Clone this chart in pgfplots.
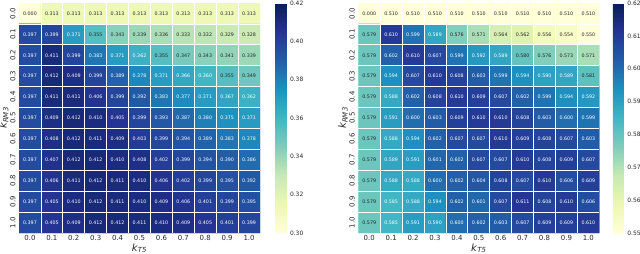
\documentclass[border=0pt]{standalone}
\usepackage{pgfplots}
\pgfplotsset{compat=1.18}
\usepackage{pgfplotstable}
\usepackage{fontspec}
\setmainfont{DejaVu Sans}
\definecolor{lbl}{HTML}{262626}
\pgfplotsset{
 colormap={ylgnbu}{rgb255=(255,255,217) rgb255=(237,248,177) rgb255=(199,233,180) rgb255=(127,205,187) rgb255=(65,182,196) rgb255=(29,145,192) rgb255=(34,94,168) rgb255=(37,52,148) rgb255=(8,29,88)},
 /pgf/number format/assume math mode=true,
 hm/.style={scale only axis, width=241bp, height=230bp, anchor=south west,
  colormap name=ylgnbu, xmin=-0.5, xmax=10.5, ymin=-0.5, ymax=10.5, y dir=reverse,
  enlargelimits=false,
  xtick={0,...,10}, ytick={0,...,10},
  xticklabels={0.0,0.1,0.2,0.3,0.4,0.5,0.6,0.7,0.8,0.9,1.0},
  yticklabels={0.0,0.1,0.2,0.3,0.4,0.5,0.6,0.7,0.8,0.9,1.0},
  major tick length=0pt, minor tick length=0pt,
  minor xtick={0.5,1.5,2.5,3.5,4.5,5.5,6.5,7.5,8.5,9.5},
  minor ytick={0.5,1.5,2.5,3.5,4.5,5.5,6.5,7.5,8.5,9.5},
  xminorgrids, yminorgrids, minor grid style={white, line width=0.8pt},
  axis line style={draw=none}, axis on top,
  tick label style={font=\fontsize{7}{8}\selectfont, text=lbl},
  yticklabel style={rotate=90, anchor=south},
  xticklabel style={anchor=north, yshift=1bp},
  xlabel={\textit{k}\textsubscript{\textit{T5}}},
  ylabel={\textit{k}\textsubscript{\textit{RM3}}},
  label style={font=\fontsize{10}{12}\selectfont, text=lbl},
  xlabel style={yshift=4bp},
  ylabel style={yshift=-5bp},
  colorbar,
 },
 cb/.style={colorbar style={at={(parent axis.north east)}, anchor=north west,
   xshift=#1, width=11bp, height=230bp, scale only axis,
   major tick length=0pt, axis line style={draw=none},
   yticklabel style={font=\fontsize{6}{7}\selectfont, text=lbl,
     /pgf/number format/.cd, fixed, fixed zerofill, precision=2}}},
 cellnodes/.style={only marks, mark=none,
  visualization depends on={\thisrow{v} \as \myv},
  nodes near coords={\ifdim\myv pt>#1pt\color{white}\else\color{lbl}\fi\pgfmathprintnumber[fixed,fixed zerofill,precision=3]{\myv}},
  every node near coord/.append style={anchor=center, font=\fontsize{4.8}{5}\selectfont, inner sep=0pt}},
}
\pgfplotstableread{
x y v
0 0 0.000
1 0 0.313
2 0 0.313
3 0 0.313
4 0 0.313
5 0 0.313
6 0 0.313
7 0 0.313
8 0 0.313
9 0 0.313
10 0 0.313
0 1 0.397
1 1 0.399
2 1 0.371
3 1 0.355
4 1 0.343
5 1 0.339
6 1 0.336
7 1 0.333
8 1 0.332
9 1 0.329
10 1 0.328
0 2 0.397
1 2 0.411
2 2 0.399
3 2 0.383
4 2 0.371
5 2 0.362
6 2 0.355
7 2 0.347
8 2 0.343
9 2 0.341
10 2 0.339
0 3 0.397
1 3 0.412
2 3 0.409
3 3 0.399
4 3 0.389
5 3 0.378
6 3 0.371
7 3 0.366
8 3 0.360
9 3 0.355
10 3 0.349
0 4 0.397
1 4 0.411
2 4 0.411
3 4 0.406
4 4 0.399
5 4 0.392
6 4 0.383
7 4 0.377
8 4 0.371
9 4 0.367
10 4 0.362
0 5 0.397
1 5 0.409
2 5 0.412
3 5 0.410
4 5 0.405
5 5 0.399
6 5 0.393
7 5 0.387
8 5 0.380
9 5 0.375
10 5 0.371
0 6 0.397
1 6 0.408
2 6 0.412
3 6 0.411
4 6 0.409
5 6 0.403
6 6 0.399
7 6 0.394
8 6 0.389
9 6 0.383
10 6 0.378
0 7 0.397
1 7 0.407
2 7 0.412
3 7 0.412
4 7 0.410
5 7 0.408
6 7 0.402
7 7 0.399
8 7 0.394
9 7 0.390
10 7 0.386
0 8 0.397
1 8 0.406
2 8 0.411
3 8 0.412
4 8 0.411
5 8 0.410
6 8 0.406
7 8 0.402
8 8 0.399
9 8 0.395
10 8 0.392
0 9 0.397
1 9 0.405
2 9 0.410
3 9 0.412
4 9 0.411
5 9 0.410
6 9 0.409
7 9 0.406
8 9 0.401
9 9 0.399
10 9 0.395
0 10 0.397
1 10 0.405
2 10 0.409
3 10 0.412
4 10 0.412
5 10 0.411
6 10 0.410
7 10 0.409
8 10 0.405
9 10 0.401
10 10 0.399
}\tabL
\pgfplotstableread{
x y v
0 0 0.000
1 0 0.510
2 0 0.510
3 0 0.510
4 0 0.510
5 0 0.510
6 0 0.510
7 0 0.510
8 0 0.510
9 0 0.510
10 0 0.510
0 1 0.579
1 1 0.610
2 1 0.599
3 1 0.589
4 1 0.576
5 1 0.571
6 1 0.564
7 1 0.562
8 1 0.556
9 1 0.554
10 1 0.550
0 2 0.579
1 2 0.602
2 2 0.610
3 2 0.607
4 2 0.599
5 2 0.592
6 2 0.589
7 2 0.580
8 2 0.576
9 2 0.573
10 2 0.571
0 3 0.579
1 3 0.594
2 3 0.607
3 3 0.610
4 3 0.608
5 3 0.603
6 3 0.599
7 3 0.594
8 3 0.590
9 3 0.589
10 3 0.581
0 4 0.579
1 4 0.588
2 4 0.602
3 4 0.608
4 4 0.610
5 4 0.609
6 4 0.607
7 4 0.602
8 4 0.599
9 4 0.594
10 4 0.592
0 5 0.579
1 5 0.591
2 5 0.600
3 5 0.603
4 5 0.609
5 5 0.610
6 5 0.610
7 5 0.608
8 5 0.603
9 5 0.600
10 5 0.599
0 6 0.579
1 6 0.588
2 6 0.594
3 6 0.602
4 6 0.607
5 6 0.607
6 6 0.610
7 6 0.609
8 6 0.608
9 6 0.607
10 6 0.603
0 7 0.579
1 7 0.589
2 7 0.591
3 7 0.601
4 7 0.602
5 7 0.607
6 7 0.607
7 7 0.610
8 7 0.608
9 7 0.609
10 7 0.607
0 8 0.579
1 8 0.588
2 8 0.588
3 8 0.600
4 8 0.602
5 8 0.604
6 8 0.608
7 8 0.607
8 8 0.610
9 8 0.606
10 8 0.609
0 9 0.579
1 9 0.585
2 9 0.588
3 9 0.594
4 9 0.602
5 9 0.601
6 9 0.607
7 9 0.611
8 9 0.608
9 9 0.610
10 9 0.606
0 10 0.579
1 10 0.585
2 10 0.591
3 10 0.590
4 10 0.600
5 10 0.602
6 10 0.603
7 10 0.607
8 10 0.609
9 10 0.609
10 10 0.610
}\tabR
\begin{document}
\begin{tikzpicture}
\path[use as bounding box] (0,0) rectangle (640bp,254bp);
\begin{axis}[hm, at={(19bp,21bp)}, point meta min=0.30, point meta max=0.42,
  cb=7bp, colorbar style={ytick={0.30,0.32,0.34,0.36,0.38,0.40,0.42}}]
\addplot[matrix plot*, mesh/cols=11, point meta=explicit] table[meta=v] {\tabL};
\addplot[cellnodes=0.356] table[x=x, y=y] {\tabL};
\end{axis}
\begin{axis}[hm, at={(358.3bp,21bp)}, point meta min=0.55, point meta max=0.62,
  cb=5bp, colorbar style={ytick={0.55,0.56,0.57,0.58,0.59,0.60,0.61,0.62}}]
\addplot[matrix plot*, mesh/cols=11, point meta=explicit] table[meta=v] {\tabR};
\addplot[cellnodes=0.583] table[x=x, y=y] {\tabR};
\end{axis}
\end{tikzpicture}
\end{document}
